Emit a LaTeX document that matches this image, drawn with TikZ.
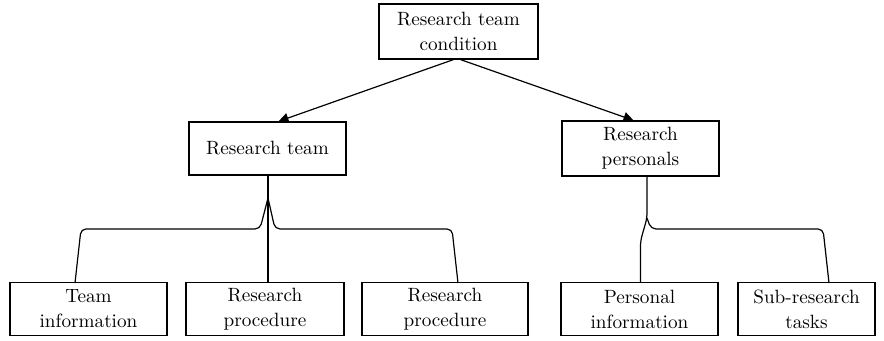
\documentclass[tikz,border=0pt]{standalone}
\usepackage{tikz}
\usetikzlibrary{arrows.meta}

\begin{document}
\begin{tikzpicture}[
  x=0.5pt, y=-0.5pt,
  box/.style={draw, line width=0.6pt, minimum height=26.5pt, inner sep=1pt,
              align=center, font=\fontsize{9.6}{12.5}\selectfont},
  link/.style={line width=0.6pt, rounded corners=2.5pt},
  arr/.style={line width=0.6pt, -{Triangle[length=5pt,width=5pt]}}
]
\useasboundingbox (0,0) rectangle (884,341);

% ===================== Top level =====================
\node[box, minimum width=79.5pt, minimum height=27.5pt] (cond) at (458.5,31.5) {Research team\\condition};

% ===================== Second level =====================
\node[box, minimum width=78.5pt] (team) at (267.5,148.5) {Research team};
\node[box, minimum width=78.5pt, minimum height=27.5pt] (pers) at (640.5,148.5) {Research\\personals};

% arrows
\draw[arr] ([xshift=-2.5pt]cond.south) -- ([xshift=5.5pt]team.north);
\draw[arr] ([xshift=1pt]cond.south) -- ([xshift=-3.5pt]pers.north);

% ===================== Bottom level =====================
\node[box, minimum width=78.5pt] (info)  at (88.5,309)  {Team\\information};
\node[box, minimum width=79pt]   (proc1) at (265,309)   {Research\\procedure};
\node[box, minimum width=83pt]   (proc2) at (445,309)   {Research\\procedure};
\node[box, minimum width=78.5pt] (pinfo) at (639.5,309) {Personal\\information};
\node[box, minimum width=68.5pt] (sub)   at (806.5,309) {Sub-research\\tasks};

% ===================== Team fork =====================
\coordinate (tfork) at (268,198);
\coordinate (infoin) at (75,283);
\coordinate (procin) at (458,283);

\draw[link] (team.south -| tfork) -- (tfork |- proc1.north);
\draw[link] (tfork) -- (260,229) -- (81,229) -- (infoin);
\draw[link] (tfork) -- (275,229) -- (452,229) -- (procin);

% ===================== Personals fork =====================
\coordinate (pfork) at (647,218);
\coordinate (subin) at (829,283);

\draw[link] (pers.south -| pfork) -- (pfork) -- (640.5,241) -- (pinfo.north -| 640.5,0);
\draw[link] (pfork) -- (651,229) -- (823,229) -- (subin);

\end{tikzpicture}
\end{document}
